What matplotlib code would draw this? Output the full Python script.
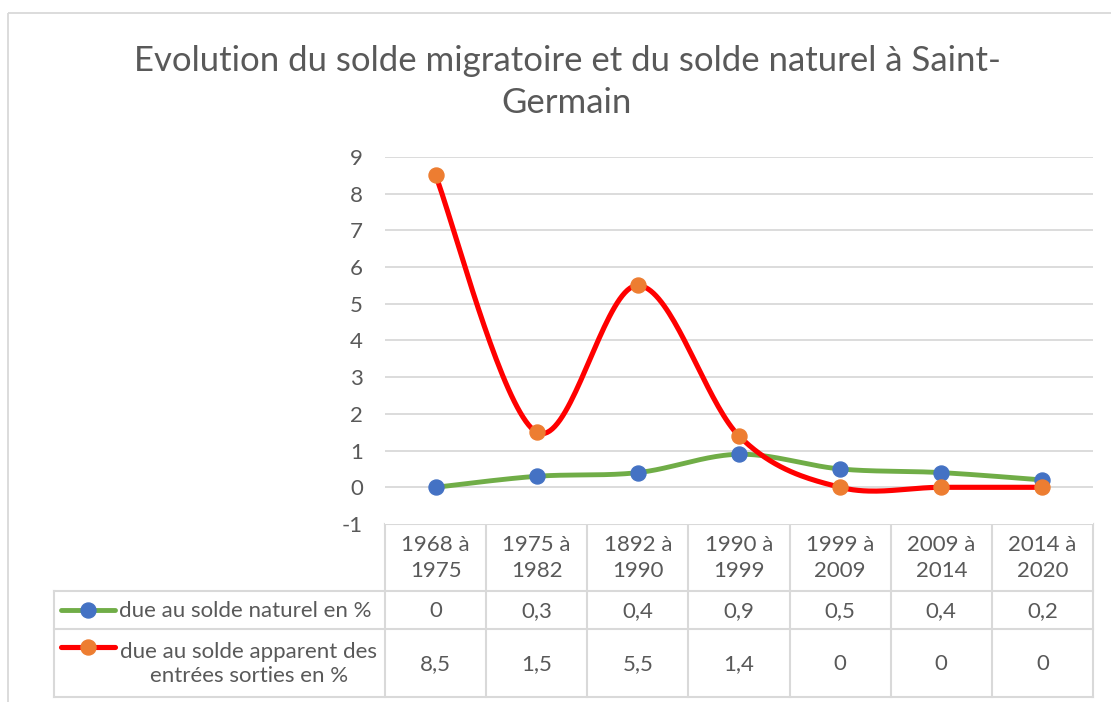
import numpy as np
import matplotlib
matplotlib.use("Agg")
import matplotlib.pyplot as plt
from matplotlib.patches import Rectangle

plt.rcParams['font.family'] = ['Lato', 'DejaVu Sans']

# ---- data ----
categories = ["1968 à\n1975", "1975 à\n1982", "1892 à\n1990", "1990 à\n1999",
              "1999 à\n2009", "2009 à\n2014", "2014 à\n2020"]
naturel = [0, 0.3, 0.4, 0.9, 0.5, 0.4, 0.2]
apparent = [8.5, 1.5, 5.5, 1.4, 0, 0, 0]
naturel_labels = ["0", "0,3", "0,4", "0,9", "0,5", "0,4", "0,2"]
apparent_labels = ["8,5", "1,5", "5,5", "1,4", "0", "0", "0"]
series_names = ["due au solde naturel en %",
                "due au solde apparent des\nentrées sorties en %"]
title = "Evolution du solde migratoire et du solde naturel à Saint-\nGermain"
yticks = list(range(-1, 10))

GREEN = "#70AD47"
BLUE = "#4472C4"
ORANGE = "#ED7D31"
RED = "#FF0000"
TEXT = "#595959"
GRID = "#D9D9D9"

W, H = 1111, 702
fig = plt.figure(figsize=(W / 100, H / 100), dpi=100)

def smooth(y, n=40):
    """Excel-like smoothing (Catmull-Rom via cubic Bezier)."""
    y = np.asarray(y, float)
    x = np.arange(len(y), dtype=float)
    P = np.column_stack([x, y])
    out = []
    for i in range(len(P) - 1):
        p0 = P[i - 1] if i > 0 else P[i]
        p1 = P[i]
        p2 = P[i + 1]
        p3 = P[i + 2] if i + 2 < len(P) else P[i + 1]
        c1 = p1 + (p2 - p0) / 6
        c2 = p2 - (p3 - p1) / 6
        t = np.linspace(0, 1, n)[:, None]
        seg = ((1 - t) ** 3) * p1 + 3 * ((1 - t) ** 2) * t * c1 + 3 * (1 - t) * t ** 2 * c2 + t ** 3 * p2
        out.append(seg if i == 0 else seg[1:])
    s = np.vstack(out)
    return s[:, 0], s[:, 1]

FS = 16

# ---- main axes (pixel layout) ----
L, R, T, B = 385, 1093, 157, 524
ax = fig.add_axes([L / W, 1 - B / H, (R - L) / W, (B - T) / H])
ax.set_xlim(-0.5, len(categories) - 0.5)
ax.set_ylim(-1, 9)
for s in ax.spines.values():
    s.set_visible(False)
ax.set_yticks(yticks)
ax.set_yticklabels([str(v) for v in yticks])
ax.tick_params(axis='y', length=0, pad=16, labelsize=FS, labelcolor=TEXT)
ax.set_xticks([])
for v in yticks[1:]:
    ax.axhline(v, color=GRID, lw=1.3, zorder=0)

xs, ys = smooth(naturel)
ax.plot(xs, ys, color=GREEN, lw=3.5, solid_capstyle='round', zorder=2)
ax.plot(range(len(naturel)), naturel, 'o', color=BLUE, ms=10.8, zorder=3)
xs, ys = smooth(apparent)
ax.plot(xs, ys, color=RED, lw=3.7, solid_capstyle='round', zorder=4)
ax.plot(range(len(apparent)), apparent, 'o', color=ORANGE, ms=10.8, zorder=5)

# ---- overlay axes in pixel coords for table, title, border ----
ov = fig.add_axes([0, 0, 1, 1], zorder=-1)
ov.set_xlim(0, W)
ov.set_ylim(H, 0)
ov.axis('off')
ov.patch.set_alpha(0)

# chart border
ov.add_patch(Rectangle((8, 13), 1120, 720, fill=False, ec=GRID, lw=1.3))

for k, line in enumerate(title.split("\n")):
    ov.text(567, 61 + 42 * k, line, ha='center', va='center', fontsize=25,
            color=TEXT)

# table lines
col_w = (R - L) / len(categories)
rows = [B, 590.5, 629, 697]
LEG_L = 54
ov.plot([L, R], [B, B], color=GRID, lw=1.5)
for yy in rows[1:]:
    ov.plot([LEG_L, R], [yy, yy], color=GRID, lw=1.5)
for i in range(len(categories) + 1):
    xx = L + i * col_w
    ov.plot([xx, xx], [B, rows[-1]], color=GRID, lw=1.5)
ov.plot([LEG_L, LEG_L], [rows[1], rows[-1]], color=GRID, lw=1.5)

for i, cat in enumerate(categories):
    cx = L + (i + 0.5) * col_w
    ov.text(cx, (rows[0] + rows[1]) / 2 + 1, cat, ha='center', va='center',
            fontsize=FS, color=TEXT, linespacing=1.35)
    ov.text(cx, (rows[1] + rows[2]) / 2 + 1, naturel_labels[i], ha='center',
            va='center', fontsize=FS, color=TEXT)
    ov.text(cx, (rows[2] + rows[3]) / 2 + 1, apparent_labels[i], ha='center',
            va='center', fontsize=FS, color=TEXT)

# legend keys
y1 = (rows[1] + rows[2]) / 2
y2 = 647
ov.plot([61, 115], [y1, y1], color=GREEN, lw=3.5, solid_capstyle='round')
ov.plot([88], [y1], 'o', color=BLUE, ms=10.8)
ov.plot([61, 115], [y2, y2], color=RED, lw=3.7, solid_capstyle='round')
ov.plot([88], [y2], 'o', color=ORANGE, ms=10.8)
ov.text(119, y1 + 1, series_names[0], ha='left', va='center', fontsize=FS, color=TEXT)
ov.text(249, (rows[2] + rows[3]) / 2 + 1, series_names[1], ha='center', va='center',
        fontsize=FS, color=TEXT, multialignment='center', linespacing=1.3)

fig.savefig("out.png", dpi=100)
